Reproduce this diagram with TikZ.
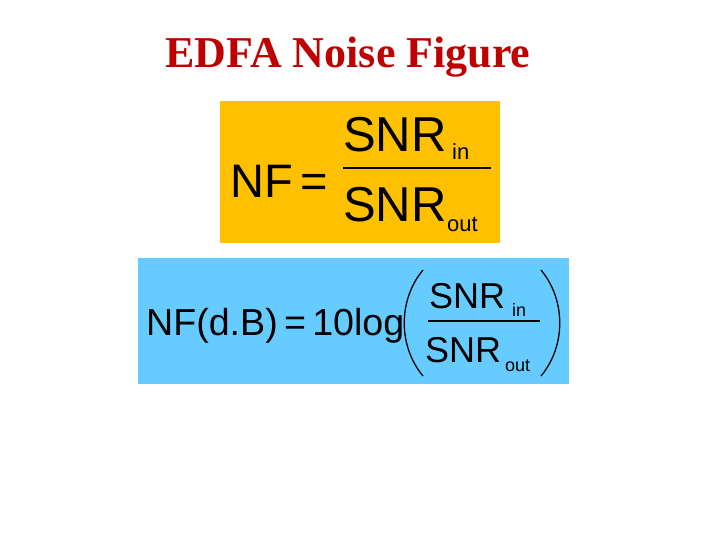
\documentclass[tikz,border=0pt]{standalone}
\usepackage{fontspec}
\setmainfont{Liberation Serif}
\newfontfamily\ar{Liberation Sans}
\begin{document}
\begin{tikzpicture}[x=1pt,y=-1pt,
  t/.style={inner sep=0pt,anchor=base west,font=\ar}]
\useasboundingbox (0,0) rectangle (720,540);
\fill[white] (0,0) rectangle (720,540);
\node[inner sep=0pt,text=red!75!black,font=\bfseries\fontsize{44}{48}\selectfont] (title) at (348,57) {EDFA Noise Figure};
\fill[fill={rgb,255:red,255;green,192;blue,0}] (220,101) rectangle (500,243);
\fill[fill={rgb,255:red,102;green,204;blue,255}] (138,258) rectangle (569,384);
% formula 1
\node[t,font=\ar\fontsize{47}{50}\selectfont] (nf) at (230,198) {NF\,=};
\node[t,font=\ar\fontsize{49}{52}\selectfont] (n1) at (343,152) {SNR};
\node[t,font=\ar\fontsize{22}{24}\selectfont] (i1) at (452,160) {in};
\draw[line width=1.5pt] (343,168) coordinate (l1a) -- (491,168) coordinate (l1b);
\node[t,font=\ar\fontsize{49}{52}\selectfont] (d1) at (343,222) {SNR};
\node[t,font=\ar\fontsize{22}{24}\selectfont] (o1) at (447,231) {out};
% formula 2
\node[t,font=\ar\fontsize{37.6}{40}\selectfont] (nf2) at (146,335) {NF(d.B)\,=\,10log};
\draw[line width=1.3pt] (423,270) .. controls (398,300) and (398,346) .. (423,376);
\draw[line width=1.3pt] (541,270) .. controls (566,300) and (566,346) .. (541,376);
\node[t,font=\ar\fontsize{36}{38}\selectfont] (n2) at (429,308) {SNR};
\node[t,font=\ar\fontsize{18}{20}\selectfont] (i2) at (512,316) {in};
\draw[line width=1.2pt] (428,321) coordinate (l2a) -- (540,321) coordinate (l2b);
\node[t,font=\ar\fontsize{36}{38}\selectfont] (d2) at (425,362) {SNR};
\node[t,font=\ar\fontsize{18}{20}\selectfont] (o2) at (505,371) {out};
\end{tikzpicture}
\end{document}
